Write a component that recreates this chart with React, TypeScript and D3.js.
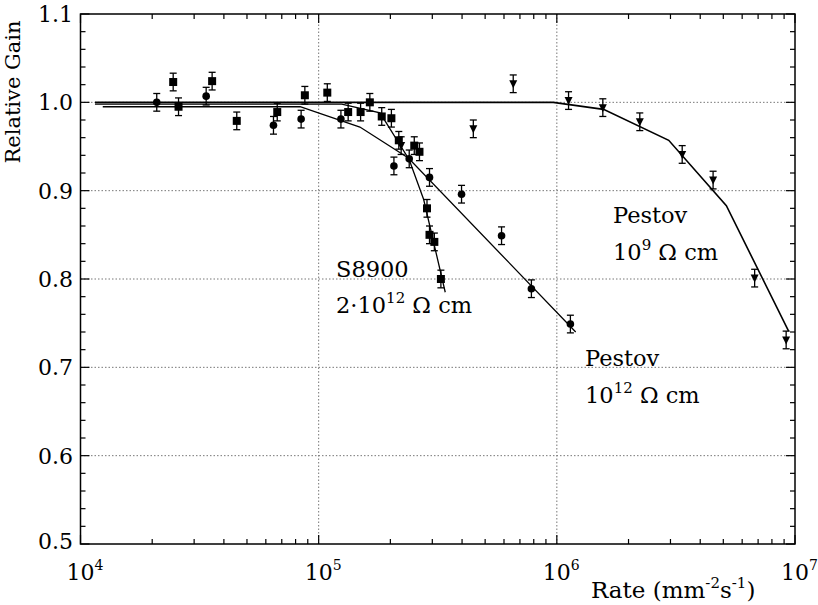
import React from "react";
import * as d3 from "d3";

const squares: [number, number][] = [
  [2.45e4, 1.023], [2.58e4, 0.995], [3.57e4, 1.024], [4.53e4, 0.979], [6.7e4, 0.989],
  [8.75e4, 1.008], [1.087e5, 1.011], [1.33e5, 0.989], [1.5e5, 0.989], [1.64e5, 1.0],
  [1.84e5, 0.984], [2.02e5, 0.982], [2.17e5, 0.957], [2.52e5, 0.951], [2.65e5, 0.944],
  [2.85e5, 0.88], [2.92e5, 0.85], [3.06e5, 0.842], [3.26e5, 0.8],
];
const circles: [number, number][] = [
  [2.09e4, 1.0], [3.37e4, 1.007], [6.46e4, 0.974], [8.44e4, 0.981], [1.24e5, 0.981],
  [2.07e5, 0.928], [2.4e5, 0.936], [2.92e5, 0.915], [3.98e5, 0.896], [5.86e5, 0.849],
  [7.82e5, 0.789], [1.14e6, 0.749],
];
const triangles: [number, number][] = [
  [2.22e5, 0.951], [4.46e5, 0.97], [6.56e5, 1.021], [1.12e6, 1.002], [1.56e6, 0.994],
  [2.23e6, 0.978], [3.36e6, 0.941], [4.53e6, 0.912], [6.77e6, 0.801], [9.18e6, 0.731],
];
const errHalf = 0.01;

const fitS8900: [number, number][] = [
  [1.15e4, 0.998], [1.25e5, 0.998], [1.81e5, 0.988], [2.4e5, 0.935], [2.76e5, 0.89], [3.4e5, 0.785],
];
const fitPestov12: [number, number][] = [
  [1.24e4, 0.995], [8.36e4, 0.995], [1.49e5, 0.972], [2.38e5, 0.937], [1.2e6, 0.74],
];
const fitPestov9: [number, number][] = [
  [1.15e4, 1.0], [9.66e5, 1.0], [1.57e6, 0.992], [2.95e6, 0.957], [5.15e6, 0.883], [9.4e6, 0.741],
];

const yTicks = [0.5, 0.6, 0.7, 0.8, 0.9, 1.0, 1.1];
const xTickExps = [4, 5, 6, 7];

const W = 818, H = 605;
const L = 80.5, R = 795, T = 14, B = 544;

export default function App() {
  const x = d3.scaleLog().domain([1e4, 1e7]).range([L, R]);
  const y = d3.scaleLinear().domain([0.5, 1.1]).range([B, T]);
  const line = d3.line<[number, number]>().x(d => x(d[0])).y(d => y(d[1]));
  const font = "'DejaVu Serif', serif";

  const minorY = d3.range(0.5, 1.1001, 0.02).filter(v => Math.abs(Math.round(v * 10) - v * 10) > 0.01);
  const minorX: number[] = [];
  for (let e = 4; e < 7; e++) for (let m = 2; m <= 9; m++) minorX.push(m * Math.pow(10, e));

  const err = (d: [number, number], i: number) => {
    const xx = x(d[0]);
    const y1 = y(d[1] + errHalf), y2 = y(d[1] - errHalf);
    return (
      <g key={"e" + i} stroke="#000" strokeWidth={1.3}>
        <line x1={xx} x2={xx} y1={y1} y2={y2} />
        <line x1={xx - 3.5} x2={xx + 3.5} y1={y1} y2={y1} />
        <line x1={xx - 3.5} x2={xx + 3.5} y1={y2} y2={y2} />
      </g>
    );
  };

  return (
    <svg width={W} height={H} style={{ position: "absolute", left: 0, top: 0, background: "#fff", fontFamily: font }}>
      <rect width={W} height={H} fill="#fff" />
      <g stroke="#777" strokeWidth={1} strokeDasharray="1.5,2">
        {[0.6, 0.7, 0.8, 0.9, 1.0].map(v => (
          <line key={"gy" + v} x1={L} x2={R} y1={y(v)} y2={y(v)} />
        ))}
        {[1e5, 1e6].map(v => (
          <line key={"gx" + v} x1={x(v)} x2={x(v)} y1={T} y2={B} />
        ))}
      </g>
      <rect x={L} y={T} width={R - L} height={B - T} fill="none" stroke="#000" strokeWidth={1.5} />
      <g stroke="#000" strokeWidth={1.2}>
        {yTicks.map(v => (
          <g key={"ty" + v}>
            <line x1={L} x2={L + 9} y1={y(v)} y2={y(v)} />
            <line x1={R} x2={R - 9} y1={y(v)} y2={y(v)} />
          </g>
        ))}
        {minorY.map(v => (
          <g key={"my" + v}>
            <line x1={L} x2={L + 5} y1={y(v)} y2={y(v)} />
            <line x1={R} x2={R - 5} y1={y(v)} y2={y(v)} />
          </g>
        ))}
        {xTickExps.map(e => (
          <g key={"tx" + e}>
            <line x1={x(Math.pow(10, e))} x2={x(Math.pow(10, e))} y1={B} y2={B - 9} />
            <line x1={x(Math.pow(10, e))} x2={x(Math.pow(10, e))} y1={T} y2={T + 9} />
          </g>
        ))}
        {minorX.map(v => (
          <g key={"mx" + v}>
            <line x1={x(v)} x2={x(v)} y1={B} y2={B - 5} />
            <line x1={x(v)} x2={x(v)} y1={T} y2={T + 5} />
          </g>
        ))}
      </g>
      <g fontSize={22} fill="#000">
        {yTicks.map(v => (
          <text key={"ly" + v} x={73} y={y(v) - (v === 0.5 ? 3 : 0)} dy="0.36em" textAnchor="end">{v.toFixed(1)}</text>
        ))}
        {xTickExps.map(e => (
          <text key={"lx" + e} x={x(Math.pow(10, e)) - 14} y={580}>
            10<tspan fontSize={14} dy={-10}>{e}</tspan>
          </text>
        ))}
      </g>
      <text transform="translate(20,92) rotate(-90)" textAnchor="middle" fontSize={21}>Relative Gain</text>
      <text x={591} y={598} fontSize={23}>
        Rate (mm<tspan fontSize={15} dy={-10}>-2</tspan><tspan dy={10}>s</tspan><tspan fontSize={15} dy={-10}>-1</tspan><tspan dy={10}>)</tspan>
      </text>
      <g fill="none" stroke="#000" strokeWidth={1.3}>
        <path d={line(fitS8900) || ""} />
        <path d={line(fitPestov12) || ""} />
        <path d={line(fitPestov9) || ""} strokeWidth={1.6} />
      </g>
      {squares.map(err)}
      {circles.map(err)}
      {triangles.map(err)}
      <g fill="#000">
        {squares.map((d, i) => (
          <rect key={"s" + i} x={x(d[0]) - 4} y={y(d[1]) - 4} width={8} height={8} />
        ))}
        {circles.map((d, i) => (
          <circle key={"c" + i} cx={x(d[0])} cy={y(d[1])} r={3.8} />
        ))}
        {triangles.map((d, i) => {
          const cx = x(d[0]), cy = y(d[1]);
          return <path key={"t" + i} d={`M${cx - 4},${cy - 3.5}L${cx + 4},${cy - 3.5}L${cx},${cy + 4.5}Z`} />;
        })}
      </g>
      <g fontSize={22.5} fill="#000">
        <text x={336} y={277}>S8900</text>
        <text x={336} y={313}>2·10<tspan fontSize={15} dy={-10}>12</tspan><tspan dy={10}> Ω cm</tspan></text>
        <text x={613} y={223}>Pestov</text>
        <text x={613} y={260}>10<tspan fontSize={15} dy={-10}>9</tspan><tspan dy={10}> Ω cm</tspan></text>
        <text x={585} y={366}>Pestov</text>
        <text x={585} y={403}>10<tspan fontSize={15} dy={-10}>12</tspan><tspan dy={10}> Ω cm</tspan></text>
      </g>
    </svg>
  );
}
